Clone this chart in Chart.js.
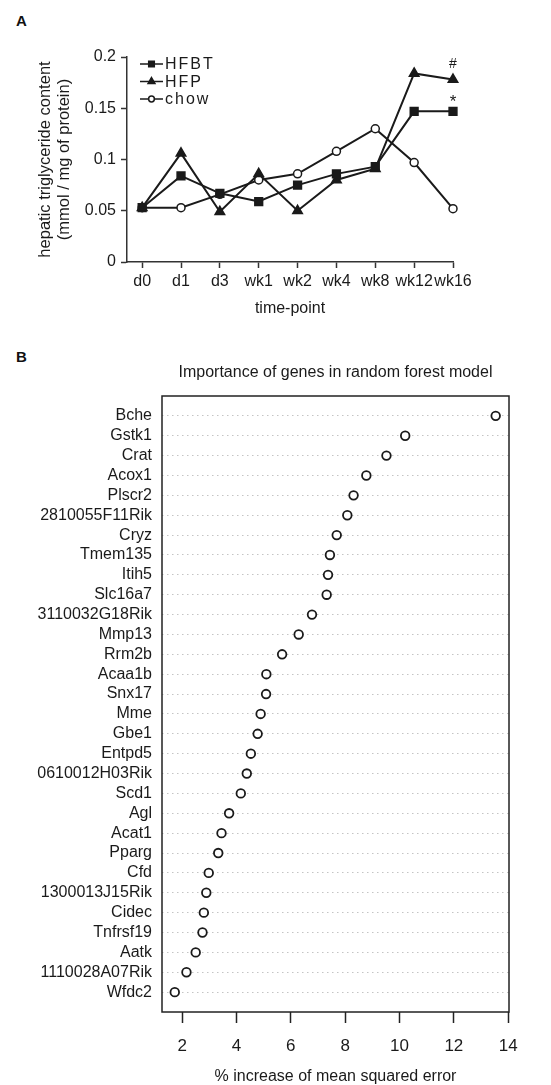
<!DOCTYPE html>
<html>
<head>
<meta charset="utf-8">
<script src="https://cdn.jsdelivr.net/npm/chart.js@4.4.1/dist/chart.umd.min.js"></script>
<style>
    html, body { margin: 0; padding: 0; background: #fff; }
    body { width: 551px; height: 1085px; position: relative; overflow: hidden; font-family: "Liberation Sans", Arial, sans-serif; }
    .panel-label { position: absolute; left: 16px; font-weight: bold; font-size: 15px; line-height: 1; color: #111; }
    canvas { position: absolute; left: 0; }
</style>
</head>
<body>
<div class="panel-label" style="top:13px">A</div>
<div class="panel-label" style="top:349px">B</div>
<canvas id="trigChart" width="551" height="330" style="top:0"></canvas>
<canvas id="geneChart" width="551" height="755" style="top:330px"></canvas>
<script>
// 패널 A: 간 중성지방 함량
const timePoints = ['d0', 'd1', 'd3', 'wk1', 'wk2', 'wk4', 'wk8', 'wk12', 'wk16'];
const hfbt = [0.053, 0.084, 0.067, 0.059, 0.075, 0.086, 0.093, 0.147, 0.147];
const hfp  = [0.053, 0.106, 0.049, 0.086, 0.050, 0.080, 0.091, 0.184, 0.178];
const chow = [0.053, 0.053, 0.066, 0.080, 0.086, 0.108, 0.130, 0.097, 0.052];
const yTicksA = [0, 0.05, 0.1, 0.15, 0.2];
const signifMarks = ['*', '#'];   // wk16: HFBT, HFP

// 패널 B: random forest 중요도
const genes = ['Bche', 'Gstk1', 'Crat', 'Acox1', 'Plscr2', '2810055F11Rik', 'Cryz', 'Tmem135',
    'Itih5', 'Slc16a7', '3110032G18Rik', 'Mmp13', 'Rrm2b', 'Acaa1b', 'Snx17', 'Mme', 'Gbe1',
    'Entpd5', '0610012H03Rik', 'Scd1', 'Agl', 'Acat1', 'Pparg', 'Cfd', '1300013J15Rik', 'Cidec',
    'Tnfrsf19', 'Aatk', '1110028A07Rik', 'Wfdc2'];
const incMSE = [13.54, 10.21, 9.52, 8.78, 8.31, 8.08, 7.69, 7.44, 7.37, 7.32, 6.78, 6.29, 5.68,
    5.10, 5.09, 4.89, 4.78, 4.53, 4.38, 4.16, 3.73, 3.45, 3.33, 2.98, 2.89, 2.80, 2.75, 2.50, 2.16, 1.73];
const xTicksB = [2, 4, 6, 8, 10, 12, 14];
const titleB = 'Importance of genes in random forest model';

const FONT = '"Liberation Sans", Arial, sans-serif';
const INK = '#1a1a1a';

function lineSet(label, values, style, fill, radius) {
    return {
        label: label,
        data: values.map((v, i) => ({ x: i, y: v })),
        borderColor: INK,
        borderWidth: 2,
        backgroundColor: fill,
        pointStyle: style,
        pointRadius: radius,
        pointBorderColor: INK,
        pointBackgroundColor: fill,
        pointBorderWidth: 1.5,
        tension: 0,
        clip: false
    };
}

// 플롯 안쪽 범례 (왼쪽 위)
const insideLegend = {
    id: 'insideLegend',
    afterDatasetsDraw(chart) {
        const { ctx, chartArea } = chart;
        const x0 = chartArea.left + 13;
        const y0 = chartArea.top + 7;
        chart.data.datasets.forEach((ds, i) => {
            const y = y0 + i * 17.5;
            ctx.save();
            ctx.strokeStyle = INK;
            ctx.lineWidth = 1.5;
            ctx.beginPath();
            ctx.moveTo(x0, y);
            ctx.lineTo(x0 + 23, y);
            ctx.stroke();
            ctx.fillStyle = ds.pointBackgroundColor;
            Chart.helpers.drawPoint(ctx, { pointStyle: ds.pointStyle, radius: ds.pointRadius * 0.72, borderWidth: 1 }, x0 + 11.5, y);
            ctx.fillStyle = INK;
            ctx.font = '16px ' + FONT;
            ctx.textBaseline = 'middle';
            ctx.letterSpacing = '2px';
            ctx.fillText(ds.label, x0 + 25, y + 1);
            ctx.restore();
        });
    }
};

// wk16 유의성 표시
const signifPlugin = {
    id: 'signif',
    afterDatasetsDraw(chart) {
        const { ctx } = chart;
        const lift = { '*': 4, '#': 12 };
        ctx.save();
        ctx.fillStyle = INK;
        ctx.textAlign = 'center';
        ctx.textBaseline = 'alphabetic';
        signifMarks.forEach((s, i) => {
            const pt = chart.getDatasetMeta(i).data[timePoints.length - 1];
            ctx.font = (s === '*' ? '17px ' : '14px ') + FONT;
            ctx.fillText(s, pt.x, pt.y - lift[s]);
        });
        ctx.restore();
    }
};

new Chart(document.getElementById('trigChart'), {
    type: 'line',
    data: {
        datasets: [
            lineSet('HFBT', hfbt, 'rect', INK, 5.5),
            lineSet('HFP', hfp, 'triangle', INK, 5.5),
            lineSet('chow', chow, 'circle', '#fff', 4)
        ]
    },
    options: {
        responsive: false,
        animation: false,
        events: [],
        layout: { padding: { top: 57, right: 98, bottom: 0, left: 0 } },
        plugins: { legend: { display: false }, tooltip: { enabled: false } },
        scales: {
            x: {
                type: 'linear',
                min: -0.39,
                max: timePoints.length - 1,
                afterBuildTicks: s => { s.ticks = timePoints.map((t, i) => ({ value: i })); },
                afterFit: s => { s.height = 68; },
                grid: { display: true, drawOnChartArea: false, drawTicks: true, tickLength: 6, tickColor: '#333', tickWidth: 1.5 },
                border: { display: true, color: '#333', width: 1.5 },
                ticks: { callback: v => timePoints[v], font: { family: FONT, size: 16 }, color: INK, padding: 4, maxRotation: 0, autoSkip: false },
                title: { display: true, text: 'time-point', font: { family: FONT, size: 16 }, color: INK, padding: { top: 0, bottom: 12 } }
            },
            y: {
                min: 0,
                max: 0.2,
                afterBuildTicks: s => { s.ticks = yTicksA.map(v => ({ value: v })); },
                afterFit: s => { s.width = 127; },
                grid: { display: true, drawOnChartArea: false, drawTicks: true, tickLength: 6, tickColor: '#333', tickWidth: 1.5 },
                border: { display: true, color: '#333', width: 1.5 },
                ticks: { callback: v => String(v), font: { family: FONT, size: 16 }, color: INK, padding: 5 },
                title: {
                    display: true,
                    text: ['hepatic triglyceride content', '(mmol / mg of protein)'],
                    font: { family: FONT, size: 16.5, lineHeight: 1.21 },
                    color: INK,
                    padding: { top: 35, bottom: 0 }
                }
            }
        }
    },
    plugins: [insideLegend, signifPlugin]
});

// 박스 테두리 + 제목
const frameTitle = {
    id: 'frameTitle',
    afterDraw(chart) {
        const { ctx, chartArea: a } = chart;
        ctx.save();
        ctx.strokeStyle = '#222';
        ctx.lineWidth = 1.5;
        ctx.strokeRect(a.left, a.top, a.right - a.left, a.bottom - a.top);
        ctx.fillStyle = INK;
        ctx.font = '16px ' + FONT;
        ctx.textAlign = 'center';
        ctx.textBaseline = 'middle';
        ctx.fillText(titleB, (a.left + a.right) / 2, a.top - 23);
        ctx.restore();
    }
};

new Chart(document.getElementById('geneChart'), {
    type: 'scatter',
    data: {
        datasets: [{
            data: incMSE.map((v, i) => ({ x: v, y: i + 1 })),
            pointStyle: 'circle',
            pointRadius: 4.3,
            pointBorderWidth: 1.8,
            pointBorderColor: INK,
            pointBackgroundColor: '#fff',
            clip: false
        }]
    },
    options: {
        responsive: false,
        animation: false,
        events: [],
        layout: { padding: { top: 66, right: 42, bottom: 0, left: 0 } },
        plugins: { legend: { display: false }, tooltip: { enabled: false } },
        scales: {
            x: {
                type: 'linear',
                min: 1.26,
                max: 14.03,
                afterBuildTicks: s => { s.ticks = xTicksB.map(v => ({ value: v })); },
                afterFit: s => { s.height = 73; },
                grid: { display: true, drawOnChartArea: false, drawTicks: true, tickLength: 11, tickColor: '#222', tickWidth: 1.5 },
                border: { display: false },
                ticks: { font: { family: FONT, size: 17 }, color: INK, padding: 13, maxRotation: 0, autoSkip: false },
                title: { display: true, text: '% increase of mean squared error', font: { family: FONT, size: 16, lineHeight: 1 }, color: INK, padding: 0 }
            },
            y: {
                type: 'linear',
                reverse: true,
                min: 0,
                max: genes.length + 1,
                afterBuildTicks: s => { s.ticks = genes.map((g, i) => ({ value: i + 1 })); },
                afterFit: s => { s.width = 162; },
                grid: { display: true, drawOnChartArea: true, drawTicks: false, color: '#c4c4c4', lineWidth: 1 },
                border: { display: false, dash: [1.5, 3.5] },
                ticks: { callback: v => genes[v - 1], font: { family: FONT, size: 16 }, color: INK, padding: 10, autoSkip: false }
            }
        }
    },
    plugins: [frameTitle]
});
</script>
</body>
</html>
